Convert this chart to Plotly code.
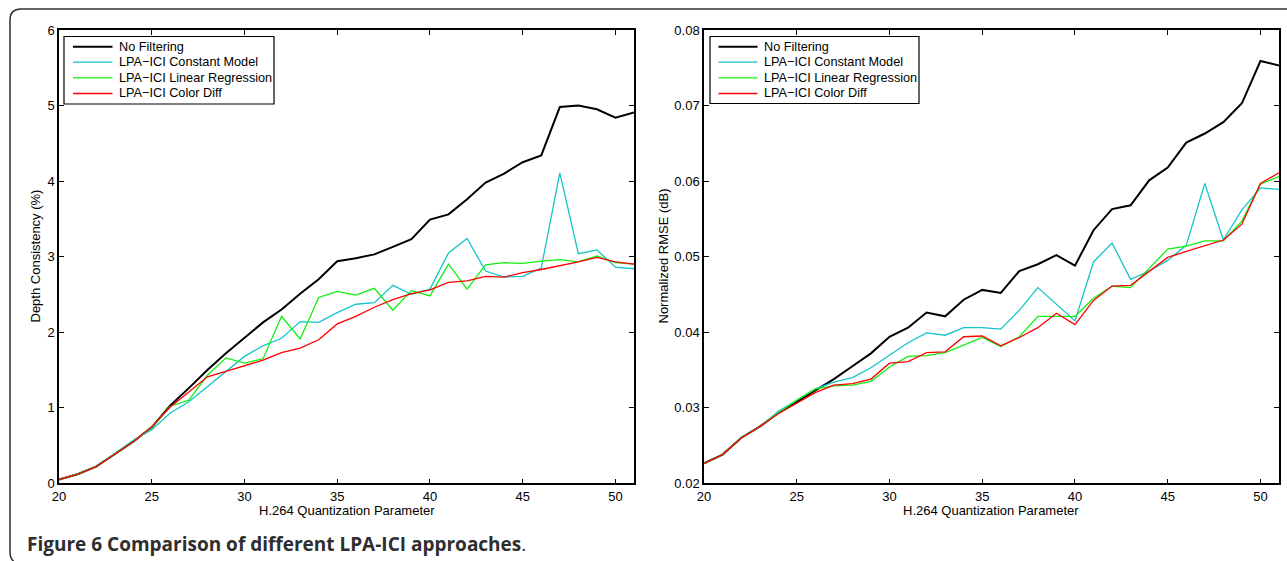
import plotly.graph_objects as go

W, H = 1287, 561

qp = [20, 21, 22, 23, 24, 25, 26, 27, 28, 29, 30, 31, 32, 33, 34, 35,
      36, 37, 38, 39, 40, 41, 42, 43, 44, 45, 46, 47, 48, 49, 50, 51]

series_names = ["No Filtering", "LPA\u2212ICI Constant Model",
                "LPA\u2212ICI Linear Regression", "LPA\u2212ICI Color Diff"]

depth_no_filter = [0.05, 0.12, 0.22, 0.39, 0.55, 0.74, 1.03, 1.26, 1.50, 1.72, 1.93, 2.13,
                   2.30, 2.51, 2.70, 2.94, 2.98, 3.03, 3.13, 3.23, 3.49, 3.56, 3.76, 3.98,
                   4.10, 4.25, 4.34, 4.98, 5.00, 4.95, 4.84, 4.91]
depth_constant = [0.05, 0.12, 0.22, 0.39, 0.57, 0.71, 0.93, 1.08, 1.28, 1.48, 1.68, 1.82,
                  1.92, 2.14, 2.13, 2.26, 2.37, 2.39, 2.62, 2.50, 2.57, 3.05, 3.24, 2.81,
                  2.73, 2.74, 2.85, 4.11, 3.04, 3.09, 2.86, 2.84]
depth_linreg = [0.05, 0.12, 0.22, 0.38, 0.55, 0.74, 1.02, 1.10, 1.43, 1.66, 1.59, 1.65,
                2.21, 1.91, 2.46, 2.54, 2.49, 2.58, 2.29, 2.55, 2.48, 2.90, 2.57, 2.89,
                2.92, 2.91, 2.94, 2.96, 2.93, 3.01, 2.92, 2.90]
depth_colordiff = [0.05, 0.12, 0.22, 0.38, 0.55, 0.75, 1.01, 1.21, 1.41, 1.48, 1.55, 1.63,
                   1.73, 1.79, 1.90, 2.11, 2.21, 2.33, 2.43, 2.51, 2.56, 2.66, 2.68, 2.74,
                   2.73, 2.79, 2.83, 2.88, 2.93, 2.99, 2.93, 2.90]

rmse_no_filter = [0.02265, 0.0238, 0.0260, 0.0275, 0.0293, 0.0308, 0.0324, 0.0338, 0.0355,
                  0.0372, 0.0394, 0.0406, 0.0426, 0.0421, 0.0443, 0.0456, 0.0452, 0.0481,
                  0.0490, 0.0502, 0.0488, 0.0535, 0.0563, 0.0568, 0.0601, 0.0618, 0.0651,
                  0.0663, 0.0678, 0.0703, 0.0759, 0.0753]
rmse_constant = [0.02265, 0.0238, 0.0260, 0.0275, 0.0295, 0.0310, 0.0325, 0.0334, 0.0340,
                 0.0353, 0.0370, 0.0386, 0.0399, 0.0396, 0.0406, 0.0406, 0.0404, 0.0429,
                 0.0459, 0.0437, 0.0415, 0.0493, 0.0518, 0.0470, 0.0481, 0.0495, 0.0515,
                 0.0597, 0.0522, 0.0562, 0.0591, 0.0589]
rmse_linreg = [0.02265, 0.0238, 0.0260, 0.0275, 0.0293, 0.0310, 0.0325, 0.0329, 0.0330,
               0.0335, 0.0354, 0.0368, 0.0369, 0.0373, 0.0383, 0.0393, 0.0381, 0.0394,
               0.0421, 0.0421, 0.0421, 0.0445, 0.0461, 0.0459, 0.0485, 0.0510, 0.0514,
               0.0521, 0.0521, 0.0547, 0.0596, 0.0606]
rmse_colordiff = [0.02265, 0.0238, 0.0260, 0.0275, 0.0292, 0.0306, 0.0320, 0.0330, 0.0332,
                  0.0338, 0.0359, 0.0361, 0.0373, 0.0374, 0.0394, 0.0395, 0.0382, 0.0393,
                  0.0406, 0.0425, 0.0410, 0.0442, 0.0461, 0.0462, 0.0480, 0.0499, 0.0507,
                  0.0514, 0.0522, 0.0543, 0.0597, 0.0611]

colors = ["#000000", "rgb(20,196,202)", "rgb(16,240,16)", "rgb(255,0,0)"]
widths = [2.0, 1.3, 1.3, 1.3]

FONT = "Liberation Sans, Arial, sans-serif"


def px(x):
    return x / W


def py(y):
    return 1 - y / H


fig = go.Figure()

left_sets = [depth_no_filter, depth_constant, depth_linreg, depth_colordiff]
right_sets = [rmse_no_filter, rmse_constant, rmse_linreg, rmse_colordiff]

for name, ys, c, w in zip(series_names, left_sets, colors, widths):
    fig.add_trace(go.Scatter(x=qp, y=ys, mode="lines", name=name,
                             line=dict(color=c, width=w),
                             xaxis="x", yaxis="y", showlegend=False))
for name, ys, c, w in zip(series_names, right_sets, colors, widths):
    fig.add_trace(go.Scatter(x=qp, y=ys, mode="lines", name=name,
                             line=dict(color=c, width=w),
                             xaxis="x2", yaxis="y2", showlegend=False))

axis_common = dict(showgrid=False, zeroline=False, showline=True, linecolor="black",
                   linewidth=1.5, mirror="ticks", ticks="inside", ticklen=5,
                   tickcolor="black", tickwidth=1,
                   tickfont=dict(family=FONT, size=13, color="black"),
                   automargin=False)

fig.update_layout(
    width=W, height=H,
    margin=dict(l=0, r=0, t=0, b=0),
    paper_bgcolor="white", plot_bgcolor="white",
    font=dict(family=FONT, size=13, color="black"),
    xaxis=dict(domain=[px(59), px(634)], range=[20, 51], dtick=5, tick0=20,
               anchor="y", **axis_common),
    yaxis=dict(domain=[py(483.3), py(30)], range=[0, 6], dtick=1,
               anchor="x", **axis_common),
    xaxis2=dict(domain=[px(704), px(1279)], range=[20, 51], dtick=5, tick0=20,
                anchor="y2", **axis_common),
    yaxis2=dict(domain=[py(483.3), py(30)], range=[0.02, 0.08], dtick=0.01,
                tickformat=".2f", anchor="x2", **axis_common),
    showlegend=False,
)

annotations = [
    dict(text="H.264 Quantization Parameter", x=px(346.5), y=py(510), xref="paper",
         yref="paper", showarrow=False, xanchor="center", yanchor="middle",
         font=dict(family=FONT, size=13, color="black")),
    dict(text="H.264 Quantization Parameter", x=px(991.5), y=py(510), xref="paper",
         yref="paper", showarrow=False, xanchor="center", yanchor="middle",
         font=dict(family=FONT, size=13, color="black")),
    dict(text="Depth Consistency (%)", x=px(35), y=py(256.5), xref="paper",
         yref="paper", showarrow=False, xanchor="center", yanchor="middle",
         textangle=-90, font=dict(family=FONT, size=13, color="black")),
    dict(text="Normalized RMSE (dB)", x=px(663), y=py(256.5), xref="paper",
         yref="paper", showarrow=False, xanchor="center", yanchor="middle",
         textangle=-90, font=dict(family=FONT, size=13, color="black")),
    dict(text="<b>Figure 6 Comparison of different LPA-ICI approaches</b>.",
         x=px(25), y=py(544), xref="paper", yref="paper", showarrow=False,
         xanchor="left", yanchor="middle",
         font=dict(family="Open Sans, sans-serif", size=19, color="#2e2e2e")),
]

shapes = []
# manual legends (compact MATLAB-style spacing)
legend_boxes = [
    dict(x0=64, x1=274, y0=36.5, y1=104, lx0=73, lx1=112.5, tx=116.5),
    dict(x0=710, x1=919, y0=36.5, y1=103.5, lx0=718.5, lx1=757.5, tx=761.5),
]
row_y = [46.7, 62.2, 77.8, 93.5]
for box in legend_boxes:
    shapes.append(dict(type="rect", xref="paper", yref="paper",
                       x0=px(box["x0"]), x1=px(box["x1"]),
                       y0=py(box["y1"]), y1=py(box["y0"]),
                       line=dict(color="black", width=1.2), fillcolor="white",
                       layer="above"))
    for name, c, w, ry in zip(series_names, colors, widths, row_y):
        shapes.append(dict(type="line", xref="paper", yref="paper",
                           x0=px(box["lx0"]), x1=px(box["lx1"]),
                           y0=py(ry), y1=py(ry),
                           line=dict(color=c, width=w), layer="above"))
        annotations.append(dict(text=name, x=px(box["tx"]), y=py(ry), xref="paper",
                                yref="paper", showarrow=False, xanchor="left",
                                yanchor="middle",
                                font=dict(family=FONT, size=12.7, color="black")))

# rounded figure frame (top and left edges)
path = (f"M {px(16)} {py(563)} Q {px(10)} {py(560)} {px(10)} {py(552)} "
        f"L {px(10)} {py(20)} "
        f"Q {px(10)} {py(9)} {px(21)} {py(9)} L {px(1290)} {py(9)}")
shapes.append(dict(type="path", path=path, xref="paper", yref="paper",
                   line=dict(color="#333333", width=1.5)))

fig.update_layout(annotations=annotations, shapes=shapes)

fig.write_html("out.html")
